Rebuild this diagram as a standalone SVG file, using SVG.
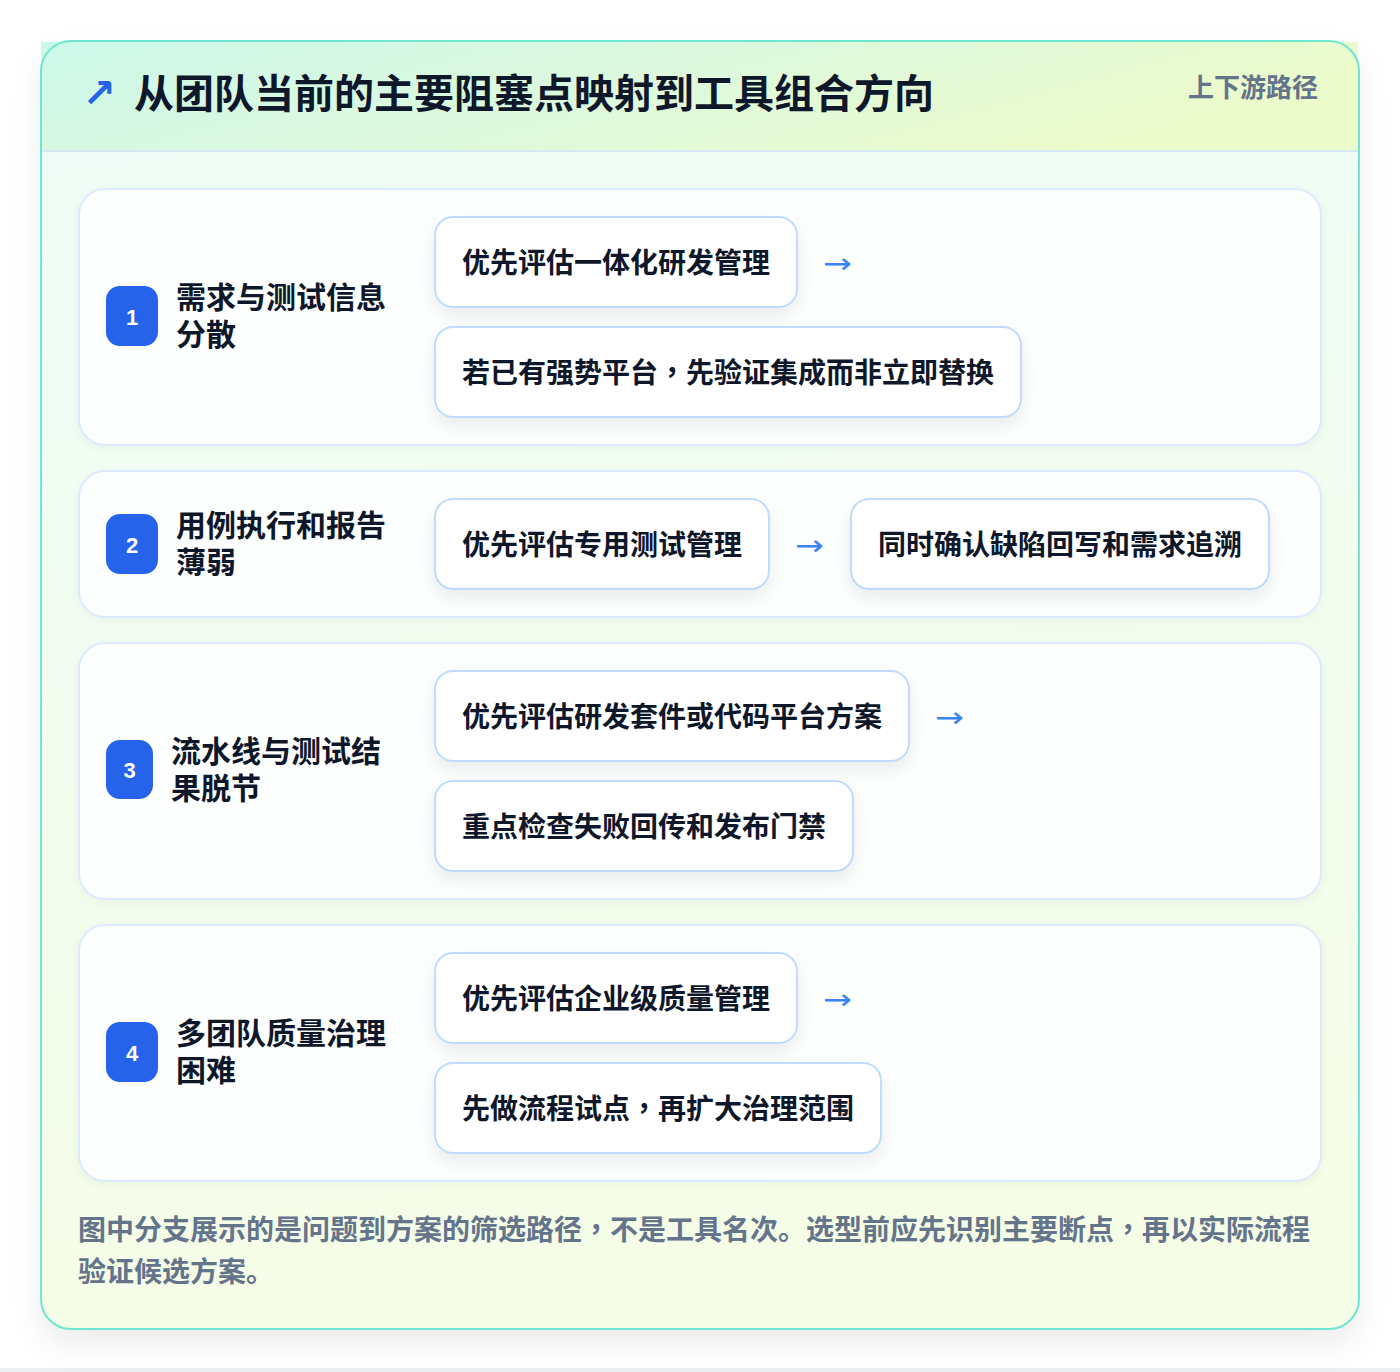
<svg xmlns="http://www.w3.org/2000/svg" width="1400" height="1372" viewBox="0 0 1400 1372">
<defs>
<linearGradient id="hdr" x1="0" y1="0" x2="1" y2="0.3">
<stop offset="0" stop-color="#cdf8ea"/>
<stop offset="0.5" stop-color="#dcf9de"/>
<stop offset="1" stop-color="#ecfbcb"/>
</linearGradient>
<linearGradient id="body" x1="0" y1="0" x2="0.15" y2="1">
<stop offset="0" stop-color="#effcf8"/>
<stop offset="1" stop-color="#f5fde7"/>
</linearGradient>
<filter id="cardShadow" x="-10%" y="-10%" width="120%" height="120%">
<feDropShadow dx="0" dy="14" stdDeviation="16" flood-color="#0f172a" flood-opacity="0.08"/>
</filter>
<filter id="rowShadow" x="-5%" y="-10%" width="110%" height="130%">
<feDropShadow dx="0" dy="3" stdDeviation="4" flood-color="#0f172a" flood-opacity="0.03"/>
</filter>
<filter id="boxShadow" x="-15%" y="-30%" width="130%" height="170%">
<feDropShadow dx="0" dy="8" stdDeviation="8" flood-color="#0f172a" flood-opacity="0.07"/>
</filter>
</defs>
<style>
.cjk{font-family:"Noto Sans CJK SC","Noto Sans",sans-serif;}
.pc{font-family:"Noto Sans CJK TC","Noto Sans CJK SC",sans-serif;}
.title{font-size:40px;font-weight:700;fill:#0f172a;}
.tag{font-size:26px;font-weight:600;fill:#64748b;}
.row{fill:#fdfffe;stroke:#dbeafe;stroke-width:2;}
.badge{fill:#2563eb;}
.num{font-family:"Liberation Sans",Arial,sans-serif;font-size:22px;font-weight:700;fill:#ffffff;}
.prob{font-size:30px;font-weight:700;fill:#0f172a;}
.box{fill:#ffffff;stroke:#bfdbfe;stroke-width:2;}
.sol{font-size:28px;font-weight:700;fill:#0f172a;}
.arr{font-family:"DejaVu Sans",sans-serif;font-size:28px;fill:#3b82f6;}
.foot{font-size:28px;font-weight:600;fill:#64748b;}
</style>
<rect x="0" y="0" width="1400" height="1372" fill="#ffffff"/>
<rect x="0" y="1368" width="1400" height="4" fill="#eceef1"/>

<g id="card">
<rect x="41" y="41" width="1318" height="1288" rx="30" fill="url(#body)" filter="url(#cardShadow)"/>
<rect x="41" y="42" width="1317" height="109" fill="url(#hdr)"/>
<line x1="42" y1="151" x2="1358" y2="151" stroke="#d6e8f5" stroke-width="2"/>
<rect x="41" y="41" width="1318" height="1288" rx="30" fill="none" stroke="#6ee7d2" stroke-width="2"/>
</g>

<g id="header">
<text x="99" y="93" text-anchor="middle" dominant-baseline="central" font-family="DejaVu Sans,sans-serif" font-size="40" font-weight="700" fill="#2563eb">↗</text>
<text class="cjk title" x="134" y="90.5" dominant-baseline="central">从团队当前的主要阻塞点映射到工具组合方向</text>
<text class="cjk tag" x="1318" y="85.5" text-anchor="end" dominant-baseline="central">上下游路径</text>
</g>

<g id="row1">
<rect class="row" x="79" y="189" width="1242" height="256" rx="26" filter="url(#rowShadow)"/>
<rect class="badge" x="106" y="286" width="52" height="60" rx="14"/>
<text class="num" x="132" y="317" text-anchor="middle" dominant-baseline="central">1</text>
<text class="cjk prob" dominant-baseline="central"><tspan x="176" y="294.5">需求与测试信息</tspan><tspan x="176" y="332">分散</tspan></text>
</g>
<g id="row1-sol1">
<rect class="box" x="435" y="217" width="362" height="90" rx="18" filter="url(#boxShadow)"/>
<text class="cjk sol" x="462" y="260.5" dominant-baseline="central">优先评估一体化研发管理</text>
</g>
<g id="row1-sol2">
<rect class="box" x="435" y="327" width="586" height="90" rx="18" filter="url(#boxShadow)"/>
<text class="cjk sol" x="462" y="370.5" dominant-baseline="central">若已有强势平台<tspan class="pc">，</tspan>先验证集成而非立即替换</text>
</g>

<g id="row2">
<rect class="row" x="79" y="471" width="1242" height="146" rx="26" filter="url(#rowShadow)"/>
<rect class="badge" x="106" y="514" width="52" height="60" rx="14"/>
<text class="num" x="132" y="545" text-anchor="middle" dominant-baseline="central">2</text>
<text class="cjk prob" dominant-baseline="central"><tspan x="176" y="522.5">用例执行和报告</tspan><tspan x="176" y="560">薄弱</tspan></text>
</g>
<g id="row2-sol1">
<rect class="box" x="435" y="499" width="334" height="90" rx="18" filter="url(#boxShadow)"/>
<text class="cjk sol" x="462" y="542.5" dominant-baseline="central">优先评估专用测试管理</text>
</g>
<g id="row2-sol2">
<rect class="box" x="851" y="499" width="418" height="90" rx="18" filter="url(#boxShadow)"/>
<text class="cjk sol" x="878" y="542.5" dominant-baseline="central">同时确认缺陷回写和需求追溯</text>
</g>

<g id="row3">
<rect class="row" x="79" y="643" width="1242" height="256" rx="26" filter="url(#rowShadow)"/>
<rect class="badge" x="106" y="740" width="47" height="59" rx="14"/>
<text class="num" x="129.5" y="770.5" text-anchor="middle" dominant-baseline="central">3</text>
<text class="cjk prob" dominant-baseline="central"><tspan x="171" y="748.5">流水线与测试结</tspan><tspan x="171" y="786">果脱节</tspan></text>
</g>
<g id="row3-sol1">
<rect class="box" x="435" y="671" width="474" height="90" rx="18" filter="url(#boxShadow)"/>
<text class="cjk sol" x="462" y="714.5" dominant-baseline="central">优先评估研发套件或代码平台方案</text>
</g>
<g id="row3-sol2">
<rect class="box" x="435" y="781" width="418" height="90" rx="18" filter="url(#boxShadow)"/>
<text class="cjk sol" x="462" y="824.5" dominant-baseline="central">重点检查失败回传和发布门禁</text>
</g>

<g id="row4">
<rect class="row" x="79" y="925" width="1242" height="256" rx="26" filter="url(#rowShadow)"/>
<rect class="badge" x="106" y="1022" width="52" height="60" rx="14"/>
<text class="num" x="132" y="1053" text-anchor="middle" dominant-baseline="central">4</text>
<text class="cjk prob" dominant-baseline="central"><tspan x="176" y="1030.5">多团队质量治理</tspan><tspan x="176" y="1068">困难</tspan></text>
</g>
<g id="row4-sol1">
<rect class="box" x="435" y="953" width="362" height="90" rx="18" filter="url(#boxShadow)"/>
<text class="cjk sol" x="462" y="996.5" dominant-baseline="central">优先评估企业级质量管理</text>
</g>
<g id="row4-sol2">
<rect class="box" x="435" y="1063" width="446" height="90" rx="18" filter="url(#boxShadow)"/>
<text class="cjk sol" x="462" y="1106.5" dominant-baseline="central">先做流程试点<tspan class="pc">，</tspan>再扩大治理范围</text>
</g>

<g id="connectors">
<text class="arr" x="823" y="263" dominant-baseline="central" textLength="29" lengthAdjust="spacingAndGlyphs">→</text>
<text class="arr" x="795" y="545" dominant-baseline="central" textLength="29" lengthAdjust="spacingAndGlyphs">→</text>
<text class="arr" x="935" y="717" dominant-baseline="central" textLength="29" lengthAdjust="spacingAndGlyphs">→</text>
<text class="arr" x="823" y="999" dominant-baseline="central" textLength="29" lengthAdjust="spacingAndGlyphs">→</text>
</g>

<g id="footer">
<text class="cjk foot" dominant-baseline="central"><tspan x="78" y="1227.5">图中分支展示的是问题到方案的筛选路径<tspan class="pc">，</tspan>不是工具名次。选型前应先识别主要断点<tspan class="pc">，</tspan>再以实际流程</tspan><tspan x="78" y="1270">验证候选方案。</tspan></text>
</g>
</svg>
